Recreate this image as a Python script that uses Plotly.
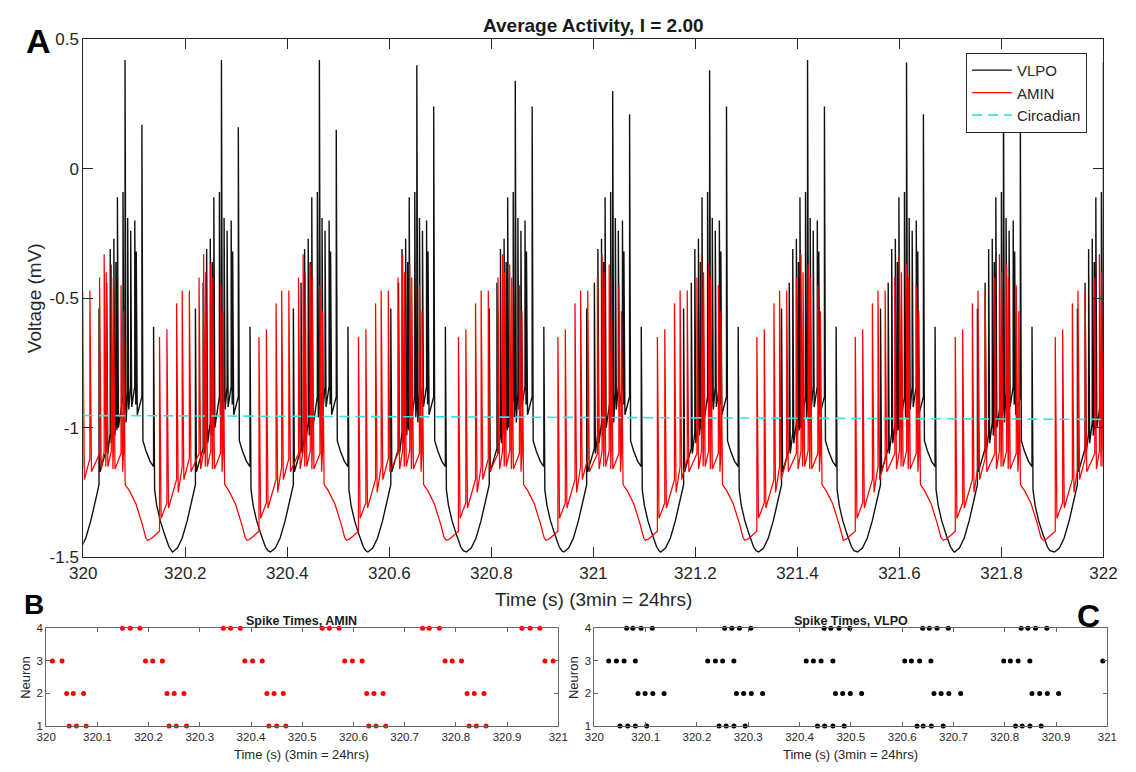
import plotly.graph_objects as go

# ---------------- Panel A : average activity ----------------
# times (s) of the U-shaped VLPO minima, one per cycle
vlpo_cycle_start = [319.986, 320.175, 320.367, 320.558, 320.751, 320.942,
                    321.132, 321.324, 321.518, 321.708, 321.904]
# heights (mV) of the two tallest VLPO peaks in every cycle
vlpo_tall_peak = [0.42, 0.42, 0.42, 0.40, 0.34, 0.30, 0.38, 0.42, 0.41, 0.40, 0.41]
vlpo_second_peak = [0.17, 0.16, 0.15, 0.24, 0.24, 0.21, 0.24, 0.24, 0.21, 0.22, 0.20]
# spikes inside one VLPO cycle: time after the minimum (s), voltage before, peak, after
vlpo_spike_dt = [0.0449, 0.0600, 0.0669, 0.0740, 0.0780, 0.0810, 0.0919,
                 0.0959, 0.1011, 0.1070, 0.1150, 0.1179, 0.1290, 0.1519]
vlpo_spike_base = [-1.22, -1.08, -1.02, -0.98, -0.97, -0.95, -0.88,
                   -0.90, -0.86, -0.84, -0.84, -0.86, -0.88, -1.15]
vlpo_spike_peak = [-0.54, -0.44, -0.31, -0.27, -0.36, -0.11, -0.09,
                   None, -0.19, -0.24, -0.20, -0.32, None, -0.61]
vlpo_spike_after = [-1.17, -1.10, -1.06, -1.03, -1.01, -1.00, -0.96,
                    -0.98, -0.93, -0.92, -0.91, -0.95, -1.05, -1.24]
# slow (between bursts) part of one VLPO cycle
vlpo_slow_dt = [0.0, 0.0096, 0.0190, 0.0287, 0.0382, 0.1370, 0.1450,
                0.1580, 0.1650, 0.1730, 0.1820, 0.1870]
vlpo_slow_v = [-1.48, -1.465, -1.426, -1.36, -1.28, -1.09, -1.13,
               -1.30, -1.36, -1.41, -1.46, -1.475]

# times (s) of the AMIN hump minima, one per cycle
amin_cycle_start = [319.931, 320.126, 320.321, 320.516, 320.712, 320.907,
                    321.102, 321.297, 321.490, 321.686, 321.882]
amin_spike_dt = [0.0235, 0.0380, 0.0570, 0.0680, 0.0820, 0.1010,
                 0.1100, 0.1140, 0.1240, 0.1280, 0.1430, 0.1480]
amin_spike_base = [-1.40, -1.29, -1.20, -1.15, -1.12, -1.10,
                   -1.09, -1.08, -1.09, -1.09, -1.10, -1.10]
amin_spike_peak = [-0.65, -0.62, -0.52, -0.47, -0.47, -0.42,
                   -0.33, -0.40, -0.37, -0.42, -0.45, -0.55]
amin_spike_after = [-1.35, -1.31, -1.25, -1.20, -1.17, -1.16,
                    -1.15, -1.15, -1.16, -1.16, -1.17, -1.22]
amin_slow_dt = [0.0, 0.006, 0.012, 0.018, 0.1596, 0.1724, 0.1852, 0.1915]
amin_slow_v = [-1.435, -1.43, -1.42, -1.41, -1.244, -1.295, -1.376, -1.425]

circadian_t = [320.0, 322.0]
circadian_v = [-0.953, -0.968]

main_xticks = [320, 320.2, 320.4, 320.6, 320.8, 321, 321.2, 321.4, 321.6, 321.8, 322]
main_xlabels = ["320", "320.2", "320.4", "320.6", "320.8", "321",
                "321.2", "321.4", "321.6", "321.8", "322"]
main_yticks = [-1.5, -1, -0.5, 0, 0.5]
main_ylabels = ["-1.5", "-1", "-0.5", "0", "0.5"]

# ---------------- Panels B, C : spike rasters ----------------
amin_n1 = [320.045, 320.059, 320.078, 320.240, 320.254, 320.274, 320.435, 320.450, 320.468,
           320.630, 320.644, 320.663, 320.826, 320.840, 320.859]
amin_n2 = [320.040, 320.053, 320.073, 320.236, 320.250, 320.269, 320.431, 320.445, 320.463,
           320.626, 320.640, 320.658, 320.822, 320.836, 320.855]
amin_n3 = [320.012, 320.031, 320.194, 320.208, 320.227, 320.388, 320.403, 320.422,
           320.583, 320.598, 320.617, 320.779, 320.793, 320.811, 320.974, 320.990]
amin_n4 = [320.149, 320.164, 320.183, 320.346, 320.360, 320.379, 320.539, 320.553, 320.572,
           320.735, 320.748, 320.768, 320.929, 320.945, 320.964]

vlpo_n1 = [320.050, 320.065, 320.080, 320.102, 320.243, 320.257, 320.272, 320.294,
           320.435, 320.449, 320.465, 320.487, 320.629, 320.641, 320.657, 320.680,
           320.821, 320.834, 320.849, 320.871]
vlpo_n2 = [320.085, 320.099, 320.114, 320.136, 320.277, 320.291, 320.306, 320.328,
           320.470, 320.484, 320.499, 320.521, 320.662, 320.676, 320.691, 320.714,
           320.853, 320.868, 320.883, 320.905]
vlpo_n3 = [320.028, 320.043, 320.058, 320.080, 320.221, 320.236, 320.250, 320.272,
           320.413, 320.427, 320.442, 320.465, 320.605, 320.618, 320.634, 320.656,
           320.798, 320.811, 320.826, 320.849, 320.991]
vlpo_n4 = [320.063, 320.075, 320.091, 320.113, 320.254, 320.268, 320.283, 320.305,
           320.448, 320.461, 320.477, 320.498, 320.640, 320.653, 320.668, 320.690,
           320.832, 320.845, 320.860, 320.882]

raster_xticks = [320, 320.1, 320.2, 320.3, 320.4, 320.5, 320.6, 320.7, 320.8, 320.9, 321]
raster_xlabels = ["320", "320.1", "320.2", "320.3", "320.4", "320.5",
                  "320.6", "320.7", "320.8", "320.9", "321"]
raster_yticks = [1, 2, 3, 4]


def build_trace(starts, spike_dt, base, peak, after, slow_dt, slow_v, width, overrides):
    xs, ys = [], []
    for c, t0 in enumerate(starts):
        pieces = [(d, [(d, v)]) for d, v in zip(slow_dt, slow_v)]
        for i, d in enumerate(spike_dt):
            pk = peak[i] if peak[i] is not None else overrides[i][c]
            pieces.append((d, [(d, base[i]), (d, pk), (d + width, after[i])]))
        pieces.sort(key=lambda p: p[0])
        for _, pts in pieces:
            for d, v in pts:
                xs.append(round(t0 + d, 5))
                ys.append(v)
    return xs, ys


vx, vy = build_trace(vlpo_cycle_start, vlpo_spike_dt, vlpo_spike_base, vlpo_spike_peak,
                     vlpo_spike_after, vlpo_slow_dt, vlpo_slow_v, 0.0020,
                     {7: vlpo_tall_peak, 12: vlpo_second_peak})
ax, ay = build_trace(amin_cycle_start, amin_spike_dt, amin_spike_base, amin_spike_peak,
                     amin_spike_after, amin_slow_dt, amin_slow_v, 0.0032, {})

W, H = 1136, 772
FONT = "Liberation Sans, Arial, Helvetica, sans-serif"
TXT = "#262626"


def px(x):
    return x / W


def py(y):
    return 1 - y / H


fig = go.Figure()
fig.add_trace(go.Scatter(x=vx, y=vy, mode="lines", name="VLPO",
                         line=dict(color="#111111", width=1.4),
                         xaxis="x", yaxis="y"))
fig.add_trace(go.Scatter(x=ax, y=ay, mode="lines", name="AMIN",
                         line=dict(color="#ff0000", width=1.25),
                         xaxis="x", yaxis="y"))
fig.add_trace(go.Scatter(x=circadian_t, y=circadian_v, mode="lines", name="Circadian",
                         line=dict(color="#33e3e8", width=1.6, dash="10px,6px"),
                         xaxis="x", yaxis="y"))

for rows, color, xa, ya in [((amin_n1, amin_n2, amin_n3, amin_n4), "#ff0000", "x2", "y2"),
                            ((vlpo_n1, vlpo_n2, vlpo_n3, vlpo_n4), "#000000", "x3", "y3")]:
    for k, times in enumerate(rows):
        fig.add_trace(go.Scatter(x=times, y=[k + 1] * len(times), mode="markers",
                                 marker=dict(color=color, size=5), showlegend=False,
                                 cliponaxis=False, xaxis=xa, yaxis=ya))

main_ax = dict(showline=True, linecolor=TXT, linewidth=1, mirror="ticks", ticks="inside",
               ticklen=10, tickcolor=TXT, showgrid=False, zeroline=False,
               tickfont=dict(family=FONT, size=17, color=TXT))
ras_ax = dict(showline=True, linecolor="#666666", linewidth=1, mirror="ticks", ticks="inside",
              ticklen=4, tickcolor="#666666", showgrid=False, zeroline=False,
              tickfont=dict(family=FONT, size=11.5, color=TXT))

fig.update_layout(
    width=W, height=H, margin=dict(l=0, r=0, t=0, b=0),
    paper_bgcolor="white", plot_bgcolor="white",
    font=dict(family=FONT, color=TXT),
    xaxis=dict(domain=[px(71), px(1117)], range=[320, 322], tickvals=main_xticks,
               ticktext=main_xlabels, anchor="y", **main_ax),
    yaxis=dict(domain=[py(562), py(31)], range=[-1.5, 0.5], tickvals=main_yticks,
               ticktext=main_ylabels, anchor="x", **main_ax),
    xaxis2=dict(domain=[px(33), px(558)], range=[320, 321], tickvals=raster_xticks,
                ticktext=raster_xlabels, anchor="y2", **ras_ax),
    yaxis2=dict(domain=[py(735), py(635)], range=[1, 4], tickvals=raster_yticks,
                anchor="x2", **ras_ax),
    xaxis3=dict(domain=[px(595), px(1121)], range=[320, 321], tickvals=raster_xticks,
                ticktext=raster_xlabels, anchor="y3", **ras_ax),
    yaxis3=dict(domain=[py(735), py(635)], range=[1, 4], tickvals=raster_yticks,
                anchor="x3", **ras_ax),
    legend=dict(x=px(976), y=py(45), xanchor="left", yanchor="top",
                bordercolor=TXT, borderwidth=1, bgcolor="white", itemwidth=40,
                font=dict(family=FONT, size=15, color=TXT), tracegroupgap=0),
    showlegend=True,
)

ann = [
    dict(text="<b>Average Activity, I = 2.00</b>", x=px(594), y=py(17), size=19, color="#1a1a1a"),
    dict(text="Time (s) (3min = 24hrs)", x=px(594), y=py(605), size=19, color=TXT),
    dict(text="Voltage (mV)", x=px(21), y=py(296), size=19, color=TXT, angle=-90),
    dict(text="<b>Spike Times, AMIN</b>", x=px(295), y=py(627), size=12.5, color="#1a1a1a"),
    dict(text="<b>Spike Times, VLPO</b>", x=px(858), y=py(627), size=12.5, color="#1a1a1a"),
    dict(text="Time (s) (3min = 24hrs)", x=px(295), y=py(764), size=13, color=TXT),
    dict(text="Time (s) (3min = 24hrs)", x=px(858), y=py(764), size=13, color=TXT),
    dict(text="Neuron", x=px(11), y=py(685), size=13, color=TXT, angle=-90),
    dict(text="Neuron", x=px(573), y=py(685), size=13, color=TXT, angle=-90),
    dict(text="<b>A</b>", x=px(25), y=py(33), size=34, color="#000000"),
    dict(text="<b>B</b>", x=px(20), y=py(611), size=28, color="#000000"),
    dict(text="<b>C</b>", x=px(1102), y=py(622), size=32, color="#000000"),
]
for a in ann:
    fig.add_annotation(text=a["text"], x=a["x"], y=a["y"], xref="paper", yref="paper",
                       xanchor="center", yanchor="middle", showarrow=False,
                       textangle=a.get("angle", 0),
                       font=dict(family=FONT, size=a["size"], color=a["color"]))

fig.write_html("out.html",
               post_script="document.body.style.margin='0';"
                           "document.body.style.overflow='hidden';")
